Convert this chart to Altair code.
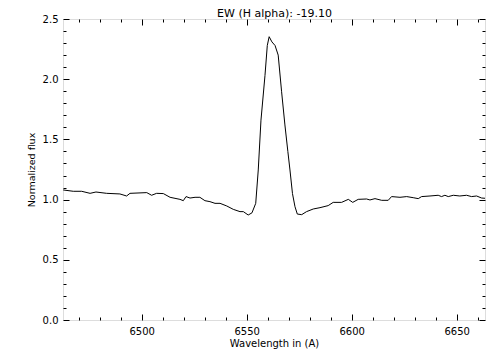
import altair as alt
import pandas as pd

# Spectrum
wavelength = [
    6462.6, 6467.4, 6471.4, 6475.4, 6478.2, 6483.3, 6489.6, 6492.8, 6494.4,
    6502.4, 6504.7, 6507.1, 6510.3, 6513.5, 6518.2, 6519.8, 6521.1, 6523.0,
    6525.4, 6527.7, 6530.1, 6532.5, 6534.9, 6537.3, 6540.5, 6543.6, 6546.8,
    6548.4, 6550.7, 6552.5, 6554.3, 6555.5, 6556.8, 6558.7, 6559.8, 6560.7,
    6562.0, 6563.5, 6565.0, 6566.6, 6568.2, 6569.6, 6570.6, 6571.8, 6573.0,
    6574.1, 6576.2, 6578.5, 6581.7, 6584.9, 6588.8, 6591.2, 6595.2, 6598.4,
    6600.5, 6603.1, 6607.1, 6608.7, 6611.1, 6614.3, 6617.4, 6619.0, 6623.0,
    6626.2, 6629.3, 6631.7, 6633.3, 6637.3, 6641.2, 6642.8, 6644.4, 6646.0,
    6648.4, 6651.5, 6654.7, 6657.1, 6659.5, 6661.9, 6663.5,
]
flux = [
    1.080, 1.069, 1.069, 1.052, 1.063, 1.052, 1.047, 1.030, 1.052,
    1.058, 1.036, 1.052, 1.050, 1.019, 1.002, 0.991, 1.025, 1.013,
    1.019, 1.019, 0.991, 0.983, 0.969, 0.969, 0.947, 0.919, 0.900,
    0.900, 0.872, 0.890, 0.969, 1.246, 1.660, 2.030, 2.280, 2.353,
    2.310, 2.280, 2.200, 1.900, 1.620, 1.400, 1.246, 1.050, 0.941,
    0.880, 0.875, 0.900, 0.922, 0.933, 0.950, 0.977, 0.977, 1.002,
    0.977, 1.002, 1.005, 0.997, 1.008, 0.994, 0.994, 1.025, 1.019,
    1.025, 1.016, 1.008, 1.025, 1.030, 1.036, 1.025, 1.036, 1.025,
    1.036, 1.030, 1.036, 1.025, 1.030, 1.013, 1.011,
]

x_domain = [6462.5, 6663.5]
y_domain = [0.0, 2.5]
x_major = [6500, 6550, 6600, 6650]
x_minor = [6470, 6480, 6490, 6510, 6520, 6530, 6540, 6560, 6570, 6580,
           6590, 6610, 6620, 6630, 6640, 6660]
y_major = [0.0, 0.5, 1.0, 1.5, 2.0, 2.5]
y_minor = [0.1, 0.2, 0.3, 0.4, 0.6, 0.7, 0.8, 0.9, 1.1, 1.2, 1.3, 1.4,
           1.6, 1.7, 1.8, 1.9, 2.1, 2.2, 2.3, 2.4]

title_text = "EW (H alpha): -19.10"
x_title = "Wavelength in (A)"
y_title = "Normalized flux"

W, H = 422, 301
FONT = "DejaVu Sans"

df = pd.DataFrame({"wl": wavelength, "flux": flux})
xs = alt.Scale(domain=x_domain, nice=False, zero=False)
ys = alt.Scale(domain=y_domain, nice=False, zero=False)
base = alt.Chart(df)


def tick_axis(orient, offset, values, size):
    return alt.Axis(orient=orient, offset=offset, values=values, tickSize=size,
                    labels=False, domain=False, grid=False, ticks=True,
                    tickColor="black", tickWidth=1)


def tick_layer(xo, yo, xv, yv, size):
    return base.mark_line(opacity=0).encode(
        x=alt.X("wl:Q", scale=xs, title=None, axis=tick_axis(xo, -H, xv, size)),
        y=alt.Y("flux:Q", scale=ys, title=None, axis=tick_axis(yo, -W, yv, size)),
    )


main = base.mark_line(color="black", strokeWidth=1).encode(
    x=alt.X("wl:Q", scale=xs, title=x_title,
            axis=alt.Axis(orient="bottom", values=x_major, format="d", ticks=False,
                          tickSize=0, domain=False, grid=False, labelPadding=6,
                          labelFont=FONT, labelFontSize=10, labelColor="black",
                          titleFont=FONT, titleFontSize=10, titleFontWeight="normal",
                          titleColor="black", titlePadding=2)),
    y=alt.Y("flux:Q", scale=ys, title=y_title,
            axis=alt.Axis(orient="left", values=y_major, format=".1f", ticks=False,
                          tickSize=0, domain=False, grid=False, labelPadding=5,
                          labelFont=FONT, labelFontSize=10, labelColor="black",
                          titleFont=FONT, titleFontSize=9.5, titleFontWeight="normal",
                          titleColor="black", titlePadding=6)),
)

# top axis carrying the chart title (no ticks or labels), plus left-pointing minor y ticks
title_layer = base.mark_line(opacity=0).encode(
    x=alt.X("wl:Q", scale=xs, title=title_text,
            axis=alt.Axis(orient="top", values=x_major, ticks=False, tickSize=0,
                          labels=False, domain=False, grid=False,
                          titleFont=FONT, titleFontSize=11, titleFontWeight="normal",
                          titleColor="black", titleBaseline="alphabetic",
                          titleAlign="center", titleX=W / 2, titleY=-2.5)),
    y=alt.Y("flux:Q", scale=ys, title=None,
            axis=tick_axis("left", -W, y_minor, 3)),
)

chart = alt.layer(
    main,
    tick_layer("top", "right", x_major, y_major, 6),
    tick_layer("bottom", "left", x_major, y_major, 6),
    tick_layer("top", "right", x_minor, y_minor, 3),
    title_layer,
    tick_layer("bottom", "left", x_minor, y_minor, 3).encode(
        y=alt.Y("flux:Q", scale=ys, title=None, axis=None)
    ),
).resolve_axis(x="independent", y="independent").properties(
    width=W, height=H,
    autosize=alt.AutoSizeParams(type="none"),
    padding={"left": 55, "top": 11, "right": 10, "bottom": 30},
).configure_view(stroke="black", strokeWidth=1).configure(background="white")

chart.save("out.html", embed_options={"renderer": "svg", "actions": False})
